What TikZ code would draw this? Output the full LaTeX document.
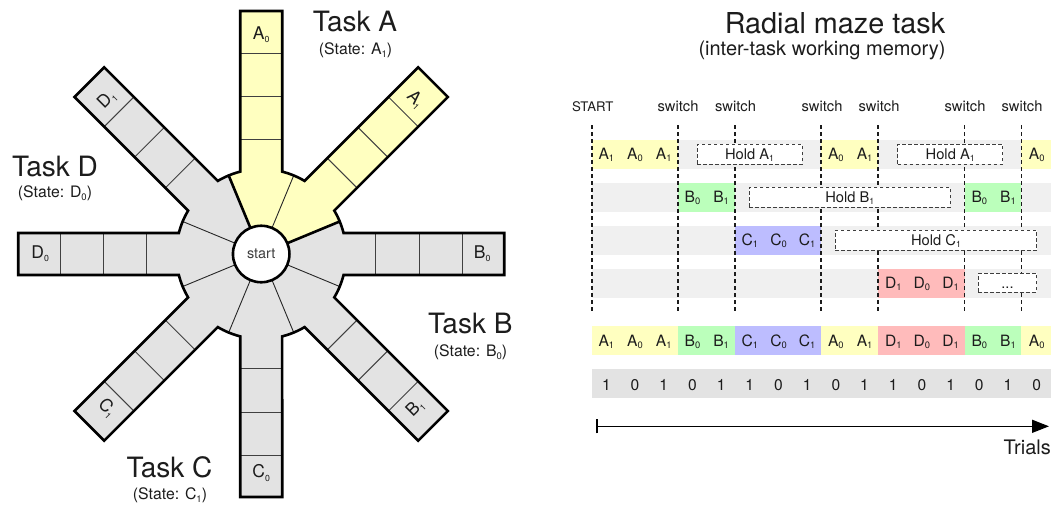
\documentclass[tikz,border=0pt]{standalone}
\usepackage{fontspec}
\setmainfont{TeX Gyre Heros}
\usetikzlibrary{arrows.meta}
\definecolor{mazegray}{HTML}{E3E3E3}
\definecolor{rowgray}{HTML}{F0F0F0}
\definecolor{cA}{HTML}{FFFFC0}
\definecolor{cB}{HTML}{BBFFBB}
\definecolor{cC}{HTML}{BDBDFF}
\definecolor{cD}{HTML}{FFBBBB}
\definecolor{ink}{HTML}{1C1C1C}
\newdimen\lodim
\newcommand{\lo}[1]{\lodim=.6em\raisebox{-.35ex}{\fontsize{\the\lodim}{\the\lodim}\selectfont #1}}
\newcommand{\mz}[1]{\lodim=.5em\raisebox{-.35ex}{\fontsize{\the\lodim}{\the\lodim}\selectfont #1}}
\newcommand{\fs}[1]{\fontsize{#1}{#1}\selectfont}
\tikzset{
  x=1pt,y=-1pt,
  txt/.style={inner sep=0,text=ink,font=\fs{14.7}},
  big/.style={txt,font=\fs{28}},
  sml/.style={txt,font=\fs{15.8}},
  celltxt/.style={txt,font=\fs{17.5}},
  trial/.style={txt,anchor=base,font=\fs{15.6}},
  holdbox/.style={draw=ink!85,fill=white,line width=.9pt,dash pattern=on 3.5pt off 2.5pt},
  switchline/.style={draw=ink,line width=1.2pt,dash pattern=on 4pt off 3pt},
  outline/.style={draw=black,line width=2.6pt,line join=miter,line cap=round},
  thin line/.style={draw=black!85,line width=.9pt},
  cell line/.style={draw=black!75,line width=1pt},
}
\newcommand{\armfill}{(0pt,0pt) -- (22.5:85pt) arc[start angle=22.5,end angle=14.3,radius=85pt] -- (243pt,21pt) -- (243pt,-21pt) -- (82.36pt,-21pt) arc[start angle=-14.3,end angle=-22.5,radius=85pt] -- cycle}
\newcommand{\armline}{(22.5:85pt) arc[start angle=22.5,end angle=14.3,radius=85pt] -- (243pt,21pt) -- (243pt,-21pt) -- (82.36pt,-21pt) arc[start angle=-14.3,end angle=-22.5,radius=85pt]}
\begin{document}
\begin{tikzpicture}
\useasboundingbox (0,0) rectangle (1056,504);
% ---------- maze
\begin{scope}[shift={(261.2,254)},y=1pt]
  \foreach \t in {0,-45,-90,-135,180,135}{
    \fill[mazegray,rotate=\t] \armfill;
  }
  \foreach \t in {90,45}{
    \fill[cA,rotate=\t] \armfill;
  }
  \foreach \t in {0,45,...,315}{
    \begin{scope}[rotate=\t]
      \foreach \r in {114.5,158,201}{
        \draw[cell line] (\r pt,-21pt) -- (\r pt,21pt);
      }
    \end{scope}
  }
  \foreach \a in {67.5,-22.5,-67.5,-112.5,-157.5,157.5}{
    \draw[thin line] (0pt,0pt) -- (\a:85pt);
  }
  \foreach \t in {0,45,...,315}{
    \draw[outline,rotate=\t] \armline;
  }
  \draw[outline] (22.5:85pt) -- (0pt,0pt) -- (112.5:85pt);
  \node[circle,draw=black,fill=white,line width=2.6pt,minimum size=56.5pt,inner sep=0,font=\fs{14.4},text=ink!85] (hub) at (0pt,0pt) {start};
  \node[celltxt] (lA0) at (90:219pt) {A\mz{0}};
  \node[celltxt,rotate=-45] (lA1) at (45:218pt) {A\mz{1}};
  \node[celltxt] (lB0) at (0:221pt) {B\mz{0}};
  \node[celltxt,rotate=45] (lB1) at (-45:218pt) {B\mz{1}};
  \node[celltxt] (lC0) at (-90:219pt) {C\mz{0}};
  \node[celltxt,rotate=-45] (lC1) at (-135:218pt) {C\mz{1}};
  \node[celltxt] (lD0) at (180:221pt) {D\mz{0}};
  \node[celltxt,rotate=45] (lD1) at (135:218pt) {D\mz{1}};
\end{scope}
% ---------- task labels
\node[big] (tA) at (355,22) {Task A};
\node[sml] (sA) at (355.5,50) {(State: A\lo{1})};
\node[big] (tB) at (470.3,323) {Task B};
\node[sml] (sB) at (470.5,352) {(State: B\lo{0})};
\node[big] (tC) at (169.5,467) {Task C};
\node[sml] (sC) at (170,495) {(State: C\lo{1})};
\node[big] (tD) at (55,166) {Task D};
\node[sml] (sD) at (55,193) {(State: D\lo{0})};
% ---------- chart titles
\node[txt,font=\fs{28.8}] (title) at (835,23) {Radial maze task};
\node[txt,font=\fs{20}] (subtitle) at (822,50) {(inter-task working memory)};
% ---------- chart background rows
\foreach \y in {140,183,226,269}{
  \fill[rowgray] (592,\y) rectangle (1051,\y+29);
}
\fill[cA] (592,140) rectangle (678,169);
\fill[cA] (821,140) rectangle (878,169);
\fill[cA] (1021,140) rectangle (1051,169);
\fill[cB] (678,183) rectangle (735,212);
\fill[cB] (964.5,183) rectangle (1021,212);
\fill[cC] (735,226) rectangle (821,255);
\fill[cD] (878,269) rectangle (964.5,298);
% row of all trials
\fill[cA] (592,326) rectangle (678,355);
\fill[cB] (678,326) rectangle (735,355);
\fill[cC] (735,326) rectangle (821,355);
\fill[cA] (821,326) rectangle (878,355);
\fill[cD] (878,326) rectangle (964.5,355);
\fill[cB] (964.5,326) rectangle (1021,355);
\fill[cA] (1021,326) rectangle (1051,355);
\fill[mazegray] (592,369) rectangle (1051,398);
% switch lines and captions
\foreach \x in {592,678,735,821,878,964.5,1021.5}{
  \draw[switchline] (\x,125) -- (\x,311.5);
}
\node[txt,anchor=base,font=\fs{13.2}] (start) at (592.7,111) {START};
\foreach \x/\n in {678/a,735.5/b,822/c,879/d,965/e,1022/f}{
  \node[txt,anchor=base] (sw\n) at (\x,111) {switch};
}
% hold boxes
\node[holdbox,minimum width=105pt,minimum height=20pt,inner sep=0] (h1) at (749.5,154.2) {};
\node[txt,anchor=base] (h1t) at (749.5,159) {Hold A\lo{1}};
\node[holdbox,minimum width=105pt,minimum height=20pt,inner sep=0] (h2) at (950.2,154.2) {};
\node[txt,anchor=base] (h2t) at (950.2,159) {Hold A\lo{1}};
\node[holdbox,minimum width=201pt,minimum height=20pt,inner sep=0] (h3) at (849.8,197.2) {};
\node[txt,anchor=base] (h3t) at (849.8,202) {Hold B\lo{1}};
\node[holdbox,minimum width=201.4pt,minimum height=20pt,inner sep=0] (h4) at (936,240.2) {};
\node[txt,anchor=base] (h4t) at (936,245) {Hold C\lo{1}};
\node[holdbox,minimum width=58.4pt,minimum height=18.6pt,inner sep=0] (h5) at (1007.5,282.7) {};
\node[txt,anchor=base] (h5t) at (1007.5,288) {...};
% trial labels in the task rows
\foreach \i/\l/\s/\y in {0/A/1/159,1/A/0/159,2/A/1/159,8/A/0/159,9/A/1/159,15/A/0/159,
  3/B/0/202,4/B/1/202,13/B/0/202,14/B/1/202,
  5/C/1/245,6/C/0/245,7/C/1/245,
  10/D/1/288,11/D/0/288,12/D/1/288}{
  \pgfmathsetmacro{\xx}{592+28.69*(\i+.5)}
  \node[trial] (r\i) at (\xx,\y) {\l\lo{\s}};
}
% sequence and bits
\foreach \i/\l/\s/\b in {0/A/1/1,1/A/0/0,2/A/1/1,3/B/0/0,4/B/1/1,5/C/1/1,6/C/0/0,7/C/1/1,8/A/0/0,9/A/1/1,10/D/1/1,11/D/0/0,12/D/1/1,13/B/0/0,14/B/1/1,15/A/0/0}{
  \pgfmathsetmacro{\xx}{592+28.69*(\i+.5)}
  \node[trial] (q\i) at (\xx,346) {\l\lo{\s}};
  \node[trial] (b\i) at (\xx,390) {\b};
}
% time arrow
\coordinate (t0) at (596.3,426.3);
\coordinate (t1) at (1049,426.3);
\draw[draw=black,line width=1.6pt,{Bar[width=14pt,line width=1.4pt]}-{Triangle[length=17pt,width=13pt]}] (t0) -- (t1);
\node[txt,anchor=base east,font=\fs{20}] (trials) at (1051,454.3) {Trials};
\end{tikzpicture}
\end{document}
